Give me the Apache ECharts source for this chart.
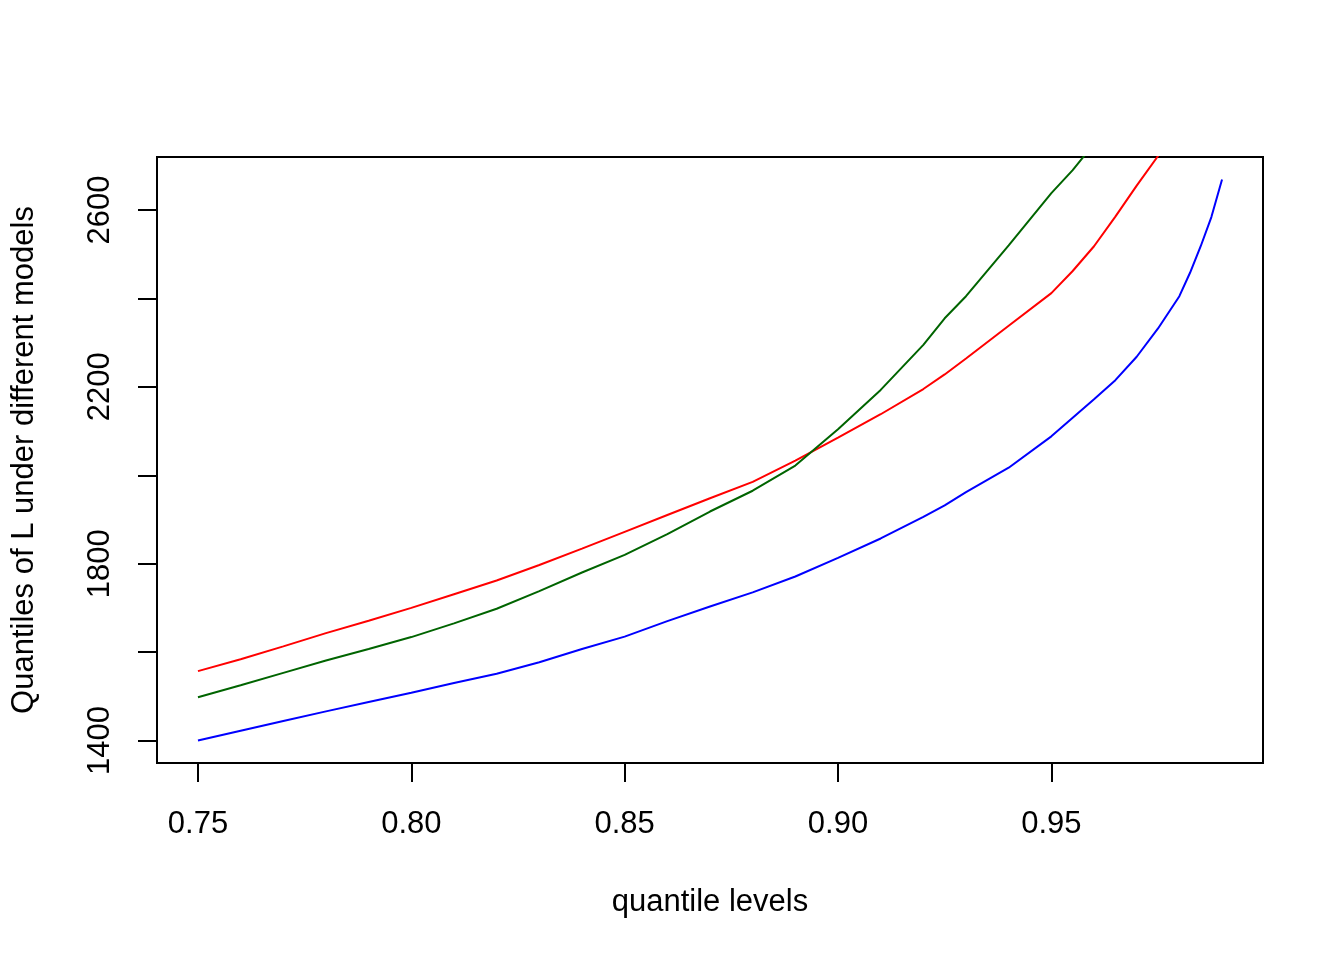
<!DOCTYPE html>
<html>
<head>
<meta charset="utf-8">
<script src="https://cdn.jsdelivr.net/npm/echarts@6/dist/echarts.min.js"></script>
<style>
  html, body { margin: 0; padding: 0; background: #fff; }
  #chart { width: 1344px; height: 960px; }
</style>
</head>
<body>
<div id="chart"></div>
<script>
// quantile levels
const levels = [0.75, 0.76, 0.77, 0.78, 0.79, 0.80, 0.81, 0.82, 0.83, 0.84, 0.85,
                0.86, 0.87, 0.88, 0.89, 0.90, 0.91, 0.92, 0.925, 0.93, 0.94, 0.95,
                0.955, 0.96, 0.965, 0.97, 0.975, 0.98, 0.9825, 0.985, 0.9875, 0.99];
// quantiles under the three models
const redModel   = [1557, 1584, 1613, 1643, 1671, 1700, 1731, 1762, 1797, 1834, 1872,
                    1910, 1948, 1985, 2033, 2085, 2138, 2195, 2228, 2264, 2338, 2412,
                    2462, 2518, 2585, 2655, 2722, 2810, 2860, 2920, 2990, 3060];
const greenModel = [1498, 1525, 1553, 1581, 1607, 1634, 1665, 1698, 1738, 1780, 1820,
                    1867, 1918, 1965, 2022, 2104, 2193, 2295, 2355, 2405, 2520, 2638,
                    2690, 2750, 2820, 2900, 2990, 3090, 3150, 3220, 3310, 3400];
const blueModel  = [1400, 1422, 1444, 1466, 1487, 1508, 1530, 1551, 1577, 1607, 1635,
                    1670, 1703, 1735, 1771, 1813, 1857, 1906, 1932, 1962, 2017, 2088,
                    2130, 2172, 2215, 2268, 2332, 2405, 2458, 2518, 2584, 2669];
// axis ticks and labels
const xTicks = [0.75, 0.80, 0.85, 0.90, 0.95];
const yTicks = [1400, 1600, 1800, 2000, 2200, 2400, 2600];
const yTickLabels = [1400, 1800, 2200, 2600];

const pair = (ys) => levels.map((x, i) => [x, ys[i]]);
const FONT = '"Liberation Sans", Arial, sans-serif';

const chart = echarts.init(document.getElementById('chart'), null, { renderer: 'canvas' });
const lineSeries = (ys, color) => ({
  type: 'line', data: pair(ys), showSymbol: false, clip: true,
  lineStyle: { color: color, width: 2 }, itemStyle: { color: color }
});
chart.setOption({
  animation: false,
  backgroundColor: '#ffffff',
  grid: {
    left: 157, top: 157, width: 1106, height: 606,
    show: true, borderColor: '#000', borderWidth: 2, backgroundColor: 'transparent'
  },
  xAxis: {
    type: 'value',
    min: 0.7404, max: 0.9996,
    splitLine: { show: false },
    axisLine: { show: false },
    axisTick: { show: true, length: 19, lineStyle: { color: '#000', width: 2 }, customValues: xTicks },
    axisLabel: {
      customValues: xTicks, margin: 46, color: '#000', fontSize: 31, fontFamily: FONT,
      formatter: (v) => v.toFixed(2)
    },
    name: 'quantile levels', nameLocation: 'middle', nameGap: 124,
    nameTextStyle: { color: '#000', fontSize: 31, fontFamily: FONT }
  },
  yAxis: {
    type: 'value',
    min: 1349.2, max: 2719.8,
    splitLine: { show: false },
    axisLine: { show: false },
    axisTick: { show: true, length: 19, lineStyle: { color: '#000', width: 2 }, customValues: yTicks },
    axisLabel: {
      customValues: yTickLabels, rotate: 90, margin: 41, color: '#000', fontSize: 31, fontFamily: FONT,
      formatter: (v) => String(v)
    },
    name: 'Quantiles of L under different models', nameLocation: 'middle', nameGap: 117,
    nameRotate: 90,
    nameTextStyle: { color: '#000', fontSize: 31, fontFamily: FONT }
  },
  series: [
    lineSeries(redModel, '#FF0000'),
    lineSeries(greenModel, '#006400'),
    lineSeries(blueModel, '#0000FF')
  ]
});
</script>
</body>
</html>
